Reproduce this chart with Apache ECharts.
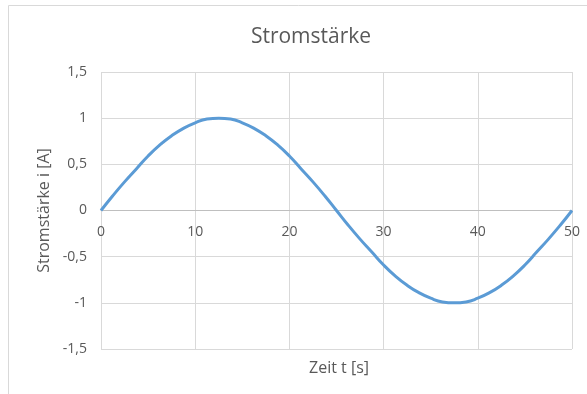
<!DOCTYPE html>
<html>
<head>
<meta charset="utf-8">
<script src="https://cdn.jsdelivr.net/npm/echarts@6/dist/echarts.min.js"></script>
<style>
  html, body { margin: 0; padding: 0; background: #fff; }
  #chart { width: 587px; height: 394px; }
</style>
</head>
<body>
<div id="chart"></div>
<script>
const zeit = [0, 1.25, 2.5, 3.75, 5, 6.25, 7.5, 8.75, 10, 11.25, 12.5, 13.75, 15, 16.25, 17.5, 18.75, 20, 21.25, 22.5, 23.75, 25,
  26.25, 27.5, 28.75, 30, 31.25, 32.5, 33.75, 35, 36.25, 37.5, 38.75, 40, 41.25, 42.5, 43.75, 45, 46.25, 47.5, 48.75, 50];
const strom = [0, 0.16, 0.31, 0.45, 0.59, 0.71, 0.81, 0.89, 0.95, 0.99, 1.0, 0.99, 0.95, 0.89, 0.81, 0.71, 0.59, 0.45, 0.31, 0.16, 0,
  -0.16, -0.31, -0.45, -0.59, -0.71, -0.81, -0.89, -0.95, -0.99, -1.0, -0.99, -0.95, -0.89, -0.81, -0.71, -0.59, -0.45, -0.31, -0.16, 0];

const font = 'Open Sans';
const grau = '#595959';

const chart = echarts.init(document.getElementById('chart'));
chart.setOption({
  animation: false,
  textStyle: { fontFamily: font },
  title: [{
    text: 'Stromstärke',
    left: 306,
    top: 22,
    textAlign: 'center',
    textStyle: { fontFamily: font, fontSize: 21, fontWeight: 'normal', color: grau }
  }, {
    text: 'Zeit t [s]',
    left: 334,
    top: 355,
    textAlign: 'center',
    textStyle: { fontFamily: font, fontSize: 16, fontWeight: 'normal', color: grau }
  }],
  graphic: [{
    type: 'rect',
    shape: { x: 8.5, y: 5.5, width: 620, height: 420 },
    style: { fill: 'none', stroke: '#d9d9d9', lineWidth: 1 },
    silent: true
  }],
  grid: {
    left: 101,
    right: 15,
    top: 72,
    bottom: 45
  },
  xAxis: [{
    type: 'value',
    min: 0,
    max: 50,
    interval: 10,
    axisLine: { onZero: true, lineStyle: { color: '#bfbfbf', width: 1 } },
    axisTick: { show: false },
    axisLabel: { show: false },
    splitLine: { lineStyle: { color: '#d9d9d9' } }
  }, {
    // nur Beschriftung direkt unter der Nulllinie
    type: 'value',
    position: 'bottom',
    offset: -138,
    min: 0,
    max: 50,
    interval: 10,
    axisLine: { show: false, onZero: false },
    axisTick: { show: false },
    axisLabel: { color: grau, fontSize: 14, margin: 14 },
    splitLine: { show: false }
  }],
  yAxis: {
    type: 'value',
    min: -1.5,
    max: 1.5,
    interval: 0.5,
    name: 'Stromstärke i [A]',
    nameLocation: 'middle',
    nameRotate: 90,
    nameGap: 48,
    nameTextStyle: { color: grau, fontSize: 16 },
    axisLine: { show: false },
    axisTick: { show: false },
    axisLabel: {
      color: grau,
      fontSize: 14,
      margin: 14,
      formatter: v => String(v).replace('.', ',')
    },
    splitLine: { lineStyle: { color: '#d9d9d9' } }
  },
  series: [{
    type: 'line',
    data: zeit.map((t, i) => [t, strom[i]]),
    smooth: true,
    showSymbol: false,
    lineStyle: { color: '#5b9bd5', width: 3 },
    itemStyle: { color: '#5b9bd5' }
  }]
});
</script>
</body>
</html>
